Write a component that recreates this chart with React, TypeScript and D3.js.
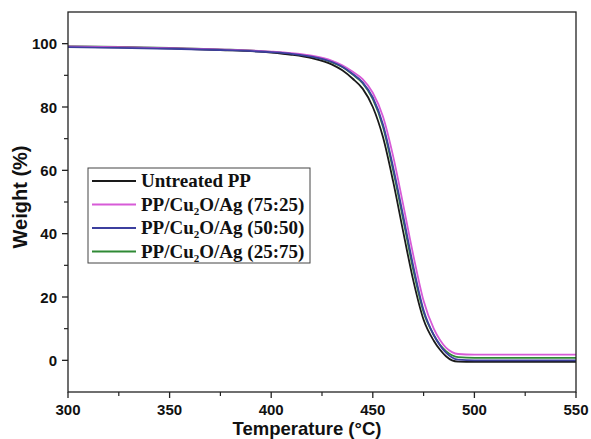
import * as d3 from 'd3'
import { useEffect } from 'react'

// TGA data (temperature in °C, weight in %)
const temps = [300, 325, 350, 375, 400, 410, 420, 430, 435, 440, 445, 450, 455, 460, 465, 470, 475, 480, 483, 486, 489, 492, 500, 525, 550]
const untreated = [99.0, 98.8, 98.5, 98.0, 97.2, 96.5, 95.4, 93.4, 91.6, 89.0, 85.8, 80.0, 70.5, 56.5, 40.5, 25.0, 12.8, 6.2, 3.4, 1.3, 0.0, -0.4, -0.5, -0.5, -0.5]
const pp7525 = [99.1, 98.9, 98.6, 98.2, 97.5, 97.0, 96.2, 94.6, 93.2, 91.2, 88.8, 84.5, 77.0, 64.5, 49.0, 33.0, 18.8, 10.0, 6.5, 4.0, 2.6, 2.0, 1.8, 1.8, 1.8]
const pp5050 = [98.9, 98.7, 98.4, 98.0, 97.3, 96.8, 95.9, 94.2, 92.7, 90.5, 87.8, 83.0, 74.5, 61.0, 45.5, 29.5, 15.8, 8.0, 4.8, 2.4, 0.9, 0.2, 0.0, 0.0, 0.0]
const pp2575 = [99.2, 99.0, 98.7, 98.2, 97.4, 96.8, 95.9, 94.1, 92.6, 90.3, 87.5, 82.5, 73.8, 60.0, 44.3, 28.3, 15.2, 8.0, 5.0, 2.9, 1.6, 1.0, 0.8, 0.8, 0.8]

const xTicks = [300, 350, 400, 450, 500, 550]
const yTicks = [0, 20, 40, 60, 80, 100]

const series = [
    { name: 'PP/Cu2O/Ag (25:75)', values: pp2575, color: '#2f8a35', legend: 3 },
    { name: 'Untreated PP', values: untreated, color: '#1a1a1a', legend: 0 },
    { name: 'PP/Cu2O/Ag (75:25)', values: pp7525, color: '#d75bd7', legend: 1 },
    { name: 'PP/Cu2O/Ag (50:50)', values: pp5050, color: '#3c3f9e', legend: 2 },
]

const W = 591
const H = 439
const left = 68
const right = 576
const top = 12
const bottom = 392

function App() {
    useEffect(() => {
        document.body.style.margin = '0'
    }, [])

    const x = d3.scaleLinear().domain([300, 550]).range([left, right])
    const y = d3.scaleLinear().domain([-10, 110]).range([bottom, top])

    const line = d3
        .line<number>()
        .x((d, i) => x(temps[i]))
        .y((d) => y(d))
        .curve(d3.curveMonotoneX)

    const xMinor = d3.range(325, 550, 50)
    const yMinor = d3.range(-10, 110, 20).filter((v) => v > -10)

    const legendRows = series.slice().sort((a, b) => a.legend - b.legend)

    return (
        <svg width={W} height={H} style={{ display: 'block', background: '#fff' }}>
            <g clipPath="url(#plot)">
                <clipPath id="plot">
                    <rect x={left} y={top} width={right - left} height={bottom - top} />
                </clipPath>
                {series.map((s) => (
                    <path key={s.name} d={line(s.values) || ''} fill="none" stroke={s.color} strokeWidth={1.8} />
                ))}
            </g>

            {/* frame */}
            <rect x={left} y={top} width={right - left} height={bottom - top} fill="none" stroke="#222" strokeWidth={1.3} />

            {/* y axis */}
            {yTicks.map((t) => (
                <g key={'y' + t}>
                    <line x1={left - 6} x2={left} y1={y(t)} y2={y(t)} stroke="#222" strokeWidth={1.3} />
                    <text x={left - 11} y={y(t) + 5.5} textAnchor="end" fontFamily="Liberation Sans, Arial" fontWeight="bold" fontSize={15} fill="#111">
                        {t}
                    </text>
                </g>
            ))}
            {yMinor.map((t) => (
                <line key={'ym' + t} x1={left - 4} x2={left} y1={y(t)} y2={y(t)} stroke="#222" strokeWidth={1.2} />
            ))}

            {/* x axis */}
            {xTicks.map((t) => (
                <g key={'x' + t}>
                    <line x1={x(t)} x2={x(t)} y1={bottom} y2={bottom + 6} stroke="#222" strokeWidth={1.3} />
                    <text x={x(t)} y={bottom + 23} textAnchor="middle" fontFamily="Liberation Sans, Arial" fontWeight="bold" fontSize={15} fill="#111">
                        {t}
                    </text>
                </g>
            ))}
            {xMinor.map((t) => (
                <line key={'xm' + t} x1={x(t)} x2={x(t)} y1={bottom} y2={bottom + 4} stroke="#222" strokeWidth={1.2} />
            ))}

            <text x={307} y={435} textAnchor="middle" fontFamily="Liberation Sans, Arial" fontWeight="bold" fontSize={18.5} fill="#111">
                Temperature (°C)
            </text>
            <text
                transform="translate(27, 197) rotate(-90)"
                textAnchor="middle"
                fontFamily="Liberation Sans, Arial"
                fontWeight="bold"
                fontSize={20}
                fill="#111"
            >
                Weight (%)
            </text>

            {/* legend */}
            <rect x={88} y={168} width={222} height={95} fill="#fff" stroke="#444" strokeWidth={1} />
            {legendRows.map((s, i) => {
                const ly = 181 + i * 23.5
                const parts = s.name.split('Cu2O')
                return (
                    <g key={'lg' + s.name}>
                        <line x1={92} x2={136} y1={ly} y2={ly} stroke={s.color} strokeWidth={1.8} />
                        <text x={141} y={ly + 6} fontFamily="Liberation Serif, Times New Roman" fontWeight="bold" fontSize={19} fill="#111">
                            {parts.length > 1 ? (
                                <>
                                    {parts[0]}Cu
                                    <tspan fontSize={11} dy={4}>2</tspan>
                                    <tspan dy={-4}>O{parts[1]}</tspan>
                                </>
                            ) : (
                                s.name
                            )}
                        </text>
                    </g>
                )
            })}
        </svg>
    )
}

export default App
